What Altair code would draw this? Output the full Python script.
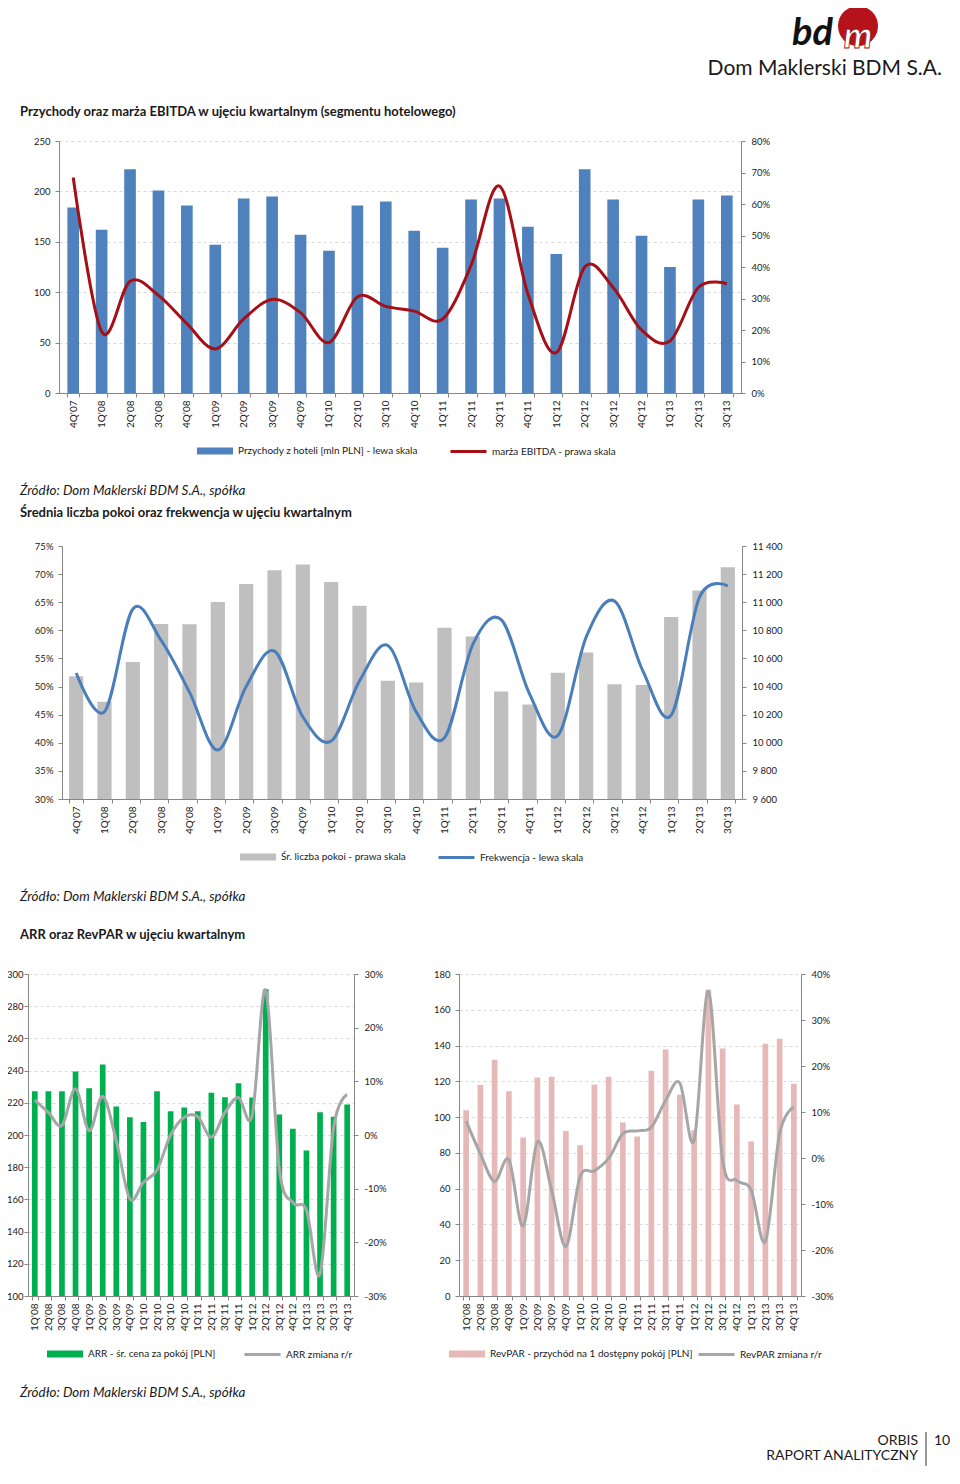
import altair as alt
import pandas as pd

# ------------------------------------------------------------------ data
quarters_a = ["4Q'07", "1Q'08", "2Q'08", "3Q'08", "4Q'08", "1Q'09", "2Q'09", "3Q'09",
              "4Q'09", "1Q'10", "2Q'10", "3Q'10", "4Q'10", "1Q'11", "2Q'11", "3Q'11",
              "4Q'11", "1Q'12", "2Q'12", "3Q'12", "4Q'12", "1Q'13", "2Q'13", "3Q'13"]
revenue = [184, 162, 222, 201, 186, 147, 193, 195, 157, 141, 186, 190,
           161, 144, 192, 193, 165, 138, 222, 192, 156, 125, 192, 196]
ebitda_margin = [68.4, 19.5, 35.5, 31.0, 22.0, 14.0, 23.5, 29.7, 25.5, 16.0, 30.5, 27.5,
                 26.0, 23.5, 40.5, 65.7, 31.5, 12.8, 40.0, 33.5, 20.0, 16.5, 33.5, 34.7]

rooms = [10473, 10292, 10575, 10845, 10843, 11001, 11130, 11227, 11269, 11144, 10975, 10442,
         10428, 10819, 10757, 10364, 10273, 10499, 10643, 10416, 10411, 10895, 11084, 11248]
occupancy = [52.4, 45.5, 63.8, 58.2, 49.0, 38.7, 50.0, 56.3, 44.6, 40.3, 51.0, 57.3,
             45.5, 40.9, 57.5, 61.9, 48.7, 41.3, 58.8, 65.2, 52.8, 44.9, 65.9, 67.9]

quarters_b = ["1Q'08", "2Q'08", "3Q'08", "4Q'08", "1Q'09", "2Q'09", "3Q'09", "4Q'09",
              "1Q'10", "2Q'10", "3Q'10", "4Q'10", "1Q'11", "2Q'11", "3Q'11", "4Q'11",
              "1Q'12", "2Q'12", "3Q'12", "4Q'12", "1Q'13", "2Q'13", "3Q'13", "4Q'13"]
arr = [227.2, 227.2, 227.2, 239.5, 229.0, 243.8, 217.7, 211.0, 208.0, 227.2, 214.8, 217.1,
       214.8, 226.2, 223.5, 232.2, 223.3, 290.5, 212.8, 203.9, 190.4, 214.2, 211.3, 219.0]
arr_change = [6.5, 4.2, 1.8, 8.6, 0.8, 7.2, -1.1, -11.9, -8.8, -6.5, 0.0, 3.3,
              3.4, -0.4, 4.2, 7.0, 3.6, 27.0, -6.3, -12.6, -14.0, -25.9, 1.4, 7.5]
revpar = [103.9, 117.9, 132.1, 114.5, 88.6, 122.2, 122.5, 92.3, 84.3, 118.1, 122.5, 97.0,
          89.2, 125.9, 137.8, 112.5, 92.7, 171.2, 138.4, 107.1, 86.4, 141.0, 143.8, 118.6]
revpar_change = [8.0, 0.9, -5.1, -0.4, -14.8, 3.5, -7.0, -19.2, -4.1, -2.8, -0.1, 5.3,
                 5.9, 6.7, 12.5, 16.3, 3.8, 36.3, -0.5, -4.9, -7.0, -18.1, 5.3, 11.1]

ticks1_left = [0, 50, 100, 150, 200, 250]
ticks1_right = [0, 10, 20, 30, 40, 50, 60, 70, 80]
ticks2_left = [30, 35, 40, 45, 50, 55, 60, 65, 70, 75]
ticks2_right = [9600, 9800, 10000, 10200, 10400, 10600, 10800, 11000, 11200, 11400]
ticks3a_left = [100, 120, 140, 160, 180, 200, 220, 240, 260, 280, 300]
ticks3a_right = [-30, -20, -10, 0, 10, 20, 30]
ticks3b_left = [0, 20, 40, 60, 80, 100, 120, 140, 160, 180]
ticks3b_right = [-30, -20, -10, 0, 10, 20, 30, 40]

title1 = "Przychody oraz marża EBITDA w ujęciu kwartalnym (segmentu hotelowego)"
title2 = "Średnia liczba pokoi oraz frekwencja w ujęciu kwartalnym"
title3 = "ARR oraz RevPAR w ujęciu kwartalnym"
source = "Źródło: Dom Maklerski BDM S.A., spółka"
names1 = ["Przychody z hoteli [mln PLN] - lewa skala", "marża EBITDA - prawa skala"]
names2 = ["Śr. liczba pokoi - prawa skala", "Frekwencja - lewa skala"]
names3a = ["ARR - śr. cena za pokój [PLN]", "ARR zmiana r/r"]
names3b = ["RevPAR - przychód na 1 dostępny pokój [PLN]", "RevPAR zmiana r/r"]

# ------------------------------------------------------------------ style
W, H = 944, 1458
FONT = "Lato"
TXT = "#1a1a1a"
AXC = "#868686"
GRIDC = "#D9D9D9"
RECT_PATH = "M-1,-0.2L1,-0.2L1,0.2L-1,0.2Z"
PCT = "datum.value + '%'"
SPACED = "replace(format(datum.value, ','), ',', ' ')"


def panel(cats, bar_vals, line_vals, names, bar_color, line_color, x_rng, y_rng,
          bar_dom, bar_ticks, bar_lab, bar_orient, line_dom, line_ticks, line_lab,
          line_orient, pad_inner, grid, leg_bar_x, leg_line_x, leg_y,
          left_pad=5, right_pad=6, line_width=3):
    df = pd.DataFrame({"q": cats, "b": bar_vals, "l": line_vals,
                       "sb": names[0], "sl": names[1]})
    x_enc = alt.X(
        "q:N", sort=cats, title=None,
        scale=alt.Scale(range=x_rng, paddingInner=pad_inner, paddingOuter=pad_inner / 2),
        axis=alt.Axis(orient="bottom", offset=y_rng[0] - H, labelAngle=270,
                      labelAlign="right", labelBaseline="middle", tickBand="extent",
                      tickSize=4, tickColor=AXC, domainColor=AXC, labelFont=FONT,
                      labelFontSize=10, labelColor=TXT, labelPadding=3, grid=False))

    def yaxis(orient, ticks, lab, grid_on):
        off = -x_rng[0] if orient == "left" else x_rng[1] - W
        return alt.Axis(orient=orient, offset=off, values=ticks, labelExpr=lab,
                        title=None, grid=grid_on, gridDash=[3, 3], gridColor=GRIDC,
                        tickSize=4, tickColor=AXC, domainColor=AXC, labelFont=FONT,
                        labelFontSize=9.5, labelColor=TXT,
                        labelPadding=left_pad if orient == "left" else right_pad)

    bars = alt.Chart().mark_bar().encode(
        x=x_enc,
        y=alt.Y("b:Q", scale=alt.Scale(domain=bar_dom, range=y_rng, nice=False, zero=False),
                axis=yaxis(bar_orient, bar_ticks, bar_lab, grid and bar_orient == "left")),
        y2=alt.datum(bar_dom[0]),
        fill=alt.Fill("sb:N", scale=alt.Scale(domain=[names[0]], range=[bar_color]),
                      legend=alt.Legend(orient="none", legendX=leg_bar_x, legendY=leg_y - 18,
                                        title=None, symbolType=RECT_PATH, symbolSize=1296,
                                        symbolStrokeWidth=0, labelFont=FONT, labelFontSize=10,
                                        labelColor=TXT, padding=0, labelOffset=5,
                                        labelLimit=500)),
    )
    line = alt.Chart().mark_line(interpolate="cardinal", strokeWidth=line_width).encode(
        x=x_enc,
        y=alt.Y("l:Q", scale=alt.Scale(domain=line_dom, range=y_rng, nice=False, zero=False),
                axis=yaxis(line_orient, line_ticks, line_lab, grid and line_orient == "left")),
        stroke=alt.Stroke("sl:N", scale=alt.Scale(domain=[names[1]], range=[line_color]),
                          legend=alt.Legend(orient="none", legendX=leg_line_x,
                                            legendY=leg_y - 19, title=None, symbolType="stroke",
                                            symbolSize=1296, symbolStrokeWidth=3,
                                            labelFont=FONT, labelFontSize=10, labelColor=TXT,
                                            padding=0, labelOffset=4, labelLimit=500)),
    )
    return alt.layer(bars, line, data=df).resolve_scale(y="independent")


def label(text, x, y, size=13, weight="normal", style="normal", align="left",
          color=TXT, stroke=None):
    kw = dict(text=text, font=FONT, fontSize=size, fontWeight=weight, fontStyle=style,
              align=align, baseline="alphabetic", color=color)
    if stroke:
        kw.update(stroke=stroke, strokeWidth=0.8)
    return alt.Chart(alt.Data(values=[{}])).mark_text(**kw).encode(
        x=alt.value(x), y=alt.value(y))


p1 = panel(quarters_a, revenue, ebitda_margin, names1, "#4F81BD", "#A50F15",
           [51, 733], [385, 133], [0, 250], ticks1_left, "datum.value", "left",
           [0, 80], ticks1_right, PCT, "right", 0.59, True, 189, 441, 443)
p2 = panel(quarters_a, rooms, occupancy, names2, "#BFBFBF", "#4A7EBB",
           [54, 734], [791, 538], [9600, 11400], ticks2_right, SPACED, "right",
           [30, 75], ticks2_left, PCT, "left", 0.5, False, 232, 429, 849)
p3a = panel(quarters_b, arr, arr_change, names3a, "#00B050", "#A6A6A6",
            [20, 346], [1288, 966], [100, 300], ticks3a_left, "datum.value", "left",
            [-30, 30], ticks3a_right, PCT, "right", 0.58, True, 39, 235, 1346,
            left_pad=1)
p3b = panel(quarters_b, revpar, revpar_change, names3b, "#E6B9B8", "#A6A6A6",
            [451, 793], [1288, 966], [0, 180], ticks3b_left, "datum.value", "left",
            [-30, 40], ticks3b_right, PCT, "right", 0.6, True, 441, 689, 1346)

logo_circle = alt.Chart(alt.Data(values=[{}])).mark_point(
    filled=True, shape="circle", size=1600, color="#B5121B", opacity=1).encode(
    x=alt.value(850), y=alt.value(18))
footer_rule = alt.Chart(alt.Data(values=[{}])).mark_rule(color="#333", strokeWidth=1).encode(
    x=alt.value(918), y=alt.value(1424), y2=alt.value(H))

texts = [
    logo_circle,
    label("bd", 784, 37, size=38, weight="bold", style="italic", color="#111"),
    label("m", 850, 40, size=36, weight="bold", style="italic", align="center",
          color="#ffffff", stroke="#8E1016"),
    label("Dom Maklerski BDM S.A.", 934, 67, size=21, align="right"),
    label(title1, 12, 108, weight="bold"),
    label(source, 12, 487, size=13.4, style="italic"),
    label(title2, 12, 509, weight="bold"),
    label(source, 12, 893, size=13.4, style="italic"),
    label(title3, 12, 931, weight="bold"),
    label(source, 12, 1389, size=13.4, style="italic"),
    label("ORBIS", 910, 1437, size=14, align="right"),
    label("RAPORT ANALITYCZNY", 910, 1452, size=14, align="right"),
    label("10", 926, 1437, size=14),
    footer_rule,
]

chart = alt.layer(*texts, p1, p2, p3a, p3b).resolve_scale(
    x="independent", y="independent", fill="independent", stroke="independent"
).properties(
    width=W, height=H, padding=0, autosize=alt.AutoSizeParams(type="none")
).configure_view(stroke=None)

chart.save("out.html", embed_options={"renderer": "svg", "actions": False})
